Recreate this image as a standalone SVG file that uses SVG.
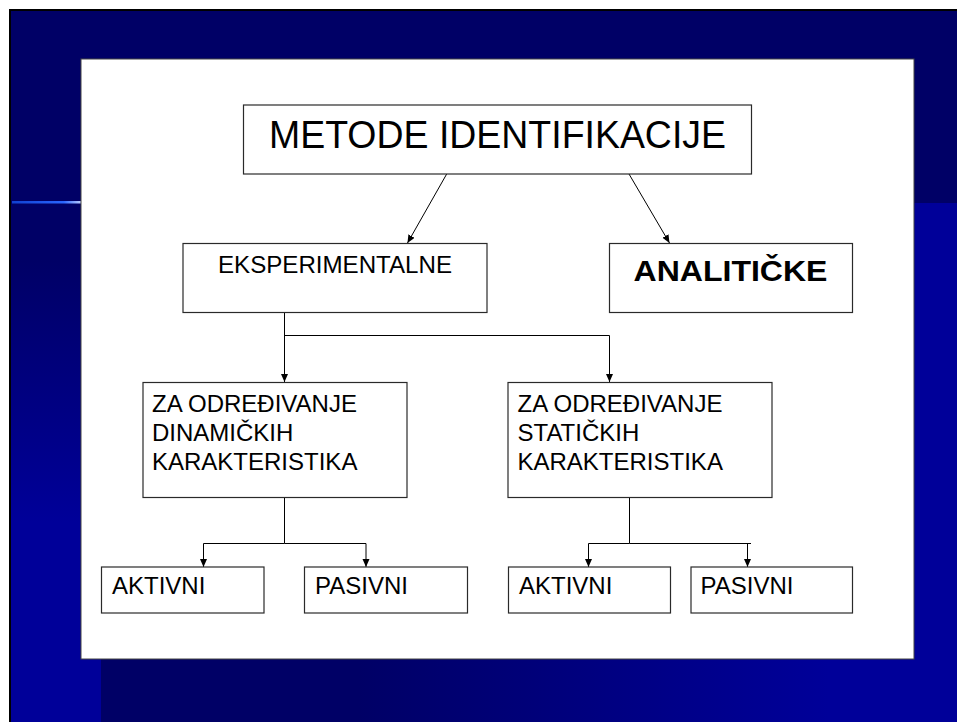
<svg xmlns="http://www.w3.org/2000/svg" width="957" height="722" viewBox="0 0 957 722">
<style>
.box{fill:#fff;stroke:#2a2a2a;stroke-width:1.2}
.t{font-family:"Liberation Sans",Arial,sans-serif;fill:#000;font-size:24px}
.c{fill:none;stroke:#000;stroke-width:1}
</style>
<defs>
<linearGradient id="lc" x1="0" y1="11" x2="0" y2="722" gradientUnits="userSpaceOnUse">
<stop offset="0" stop-color="#000066"/><stop offset="0.35" stop-color="#000066"/><stop offset="0.72" stop-color="#000099"/><stop offset="1" stop-color="#000099"/>
</linearGradient>
<linearGradient id="bb" x1="101" y1="0" x2="957" y2="0" gradientUnits="userSpaceOnUse">
<stop offset="0" stop-color="#000066"/><stop offset="0.3" stop-color="#000066"/><stop offset="0.85" stop-color="#000099"/><stop offset="1" stop-color="#000099"/>
</linearGradient>
<linearGradient id="ln" x1="12" y1="0" x2="81" y2="0" gradientUnits="userSpaceOnUse">
<stop offset="0" stop-color="#1040d0"/><stop offset="0.75" stop-color="#2a66ff"/><stop offset="1" stop-color="#b8ccff"/>
</linearGradient>
<marker id="ah" markerUnits="userSpaceOnUse" markerWidth="8" markerHeight="8" refX="8" refY="3.5" orient="auto">
<path d="M0,0 L8,3.5 L0,7 z" fill="#000"/>
</marker>
</defs>
<rect x="0" y="0" width="957" height="722" fill="#fff"/>
<rect x="10" y="10" width="947" height="712" fill="#000099"/>
<rect x="11" y="11" width="946" height="192" fill="#000066"/>
<rect x="11" y="11" width="90" height="711" fill="url(#lc)"/>
<rect x="101" y="659" width="856" height="63" fill="url(#bb)"/>
<path d="M10,722 V10 H957" fill="none" stroke="#000" stroke-width="2"/>
<rect x="12" y="201" width="69" height="2.5" fill="url(#ln)"/>
<rect x="81" y="59" width="833" height="600" fill="#fff" stroke="#444" stroke-width="1"/>

<g id="connectors">
<line class="c" x1="446.7" y1="174" x2="407.5" y2="243" marker-end="url(#ah)"/>
<line class="c" x1="629" y1="174" x2="669.5" y2="243" marker-end="url(#ah)"/>
<path class="c" d="M284.5,312.5 V382" marker-end="url(#ah)"/>
<path class="c" d="M284.5,335.5 H609.5 V382" marker-end="url(#ah)"/>
<path class="c" d="M284.5,497.5 V543.5"/>
<path class="c" d="M284.5,543.5 H203.5 V567" marker-end="url(#ah)"/>
<path class="c" d="M284.5,543.5 H366 V567" marker-end="url(#ah)"/>
<path class="c" d="M629.5,497.5 V543.5"/>
<path class="c" d="M629.5,543.5 H588.5 V567" marker-end="url(#ah)"/>
<path class="c" d="M629.5,543.5 H751"/>
<path class="c" d="M747.5,543.5 V567" marker-end="url(#ah)"/>
</g>

<g id="n-metode">
<rect class="box" x="243.5" y="105" width="508" height="69"/>
<text class="t" x="497.5" y="148" style="font-size:38px" text-anchor="middle" textLength="457" lengthAdjust="spacingAndGlyphs">METODE IDENTIFIKACIJE</text>
</g>
<g id="n-eksperimentalne">
<rect class="box" x="183" y="243.5" width="304" height="69"/>
<text class="t" x="335" y="272.5" text-anchor="middle" textLength="234" lengthAdjust="spacingAndGlyphs">EKSPERIMENTALNE</text>
</g>
<g id="n-analiticke">
<rect class="box" x="609.5" y="243.5" width="243" height="69"/>
<text class="t" x="730.5" y="281" style="font-size:29px;font-weight:bold" text-anchor="middle" textLength="194" lengthAdjust="spacingAndGlyphs">ANALITIČKE</text>
</g>
<g id="n-dinamicke">
<rect class="box" x="143" y="382.5" width="264" height="115"/>
<text class="t" x="152" y="411.5">ZA ODREĐIVANJE</text>
<text class="t" x="152" y="441">DINAMIČKIH</text>
<text class="t" x="152" y="469.5">KARAKTERISTIKA</text>
</g>
<g id="n-staticke">
<rect class="box" x="508" y="382.5" width="264" height="115"/>
<text class="t" x="517.5" y="411.5">ZA ODREĐIVANJE</text>
<text class="t" x="517.5" y="441">STATIČKIH</text>
<text class="t" x="517.5" y="469.5">KARAKTERISTIKA</text>
</g>
<g id="n-aktivni-1">
<rect class="box" x="101.5" y="567" width="162.5" height="46"/>
<text class="t" x="112" y="594">AKTIVNI</text>
</g>
<g id="n-pasivni-1">
<rect class="box" x="304.5" y="567" width="163" height="46"/>
<text class="t" x="315" y="594">PASIVNI</text>
</g>
<g id="n-aktivni-2">
<rect class="box" x="508.5" y="567" width="162" height="46"/>
<text class="t" x="519" y="594">AKTIVNI</text>
</g>
<g id="n-pasivni-2">
<rect class="box" x="691" y="567" width="161.5" height="46"/>
<text class="t" x="700.5" y="594">PASIVNI</text>
</g>
</svg>
